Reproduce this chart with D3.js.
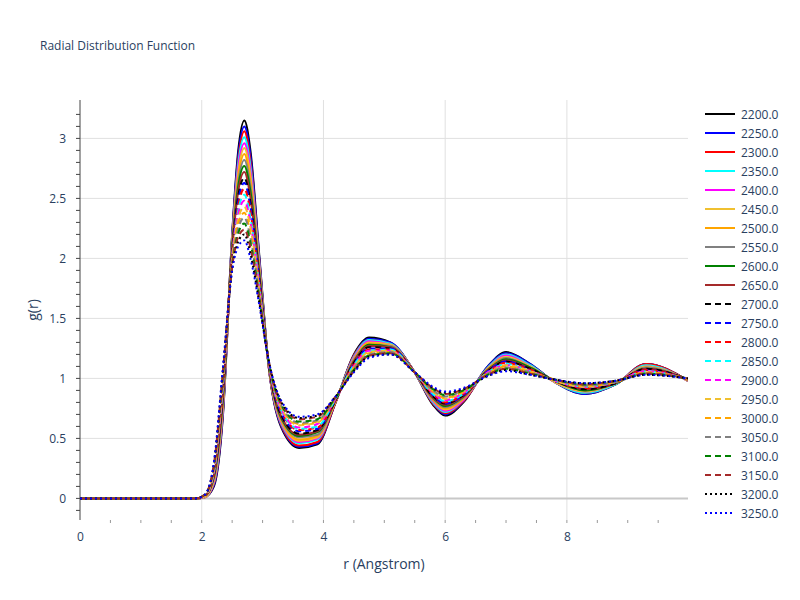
<!DOCTYPE html>
<html>
<head>
<meta charset="utf-8">
<script src="https://cdn.jsdelivr.net/npm/d3@7"></script>
<style>
  body { margin: 0; background: #fff; }
  text { font-family: "Open Sans", sans-serif; fill: #2a3f5f; }
</style>
</head>
<body>
<svg id="chart" width="800" height="600"></svg>
<script>
var rValues = [0, 1.9, 2.05, 2.2, 2.35, 2.5, 2.6, 2.7, 2.8, 2.95, 3.1, 3.3, 3.6, 3.9, 4.2, 4.5, 4.75, 5.1, 5.5, 5.8, 6.0, 6.3, 6.7, 7.0, 7.4, 7.8, 8.3, 8.8, 9.3, 9.99];
var temperatures = ['2200.0','2250.0','2300.0','2350.0','2400.0','2450.0','2500.0','2550.0','2600.0','2650.0','2700.0','2750.0','2800.0','2850.0','2900.0','2950.0','3000.0','3050.0','3100.0','3150.0','3200.0','3250.0'];
var gValues = [
  [0,0,.01,.10,.70,2.20,2.90,3.15,2.90,2.00,1.10,.60,.42,.45,.80,1.20,1.34,1.30,1.05,.78,.69,.80,1.10,1.22,1.12,.97,.87,.95,1.12,.98],
  [0,0,.01,.11,.72,2.19,2.86,3.10,2.86,1.98,1.10,.61,.43,.46,.80,1.19,1.33,1.30,1.05,.79,.70,.81,1.10,1.21,1.12,.97,.87,.95,1.12,.98],
  [0,0,.01,.12,.74,2.17,2.82,3.06,2.81,1.96,1.10,.62,.44,.47,.80,1.19,1.32,1.29,1.05,.79,.71,.81,1.09,1.20,1.11,.97,.88,.95,1.12,.98],
  [0,0,.01,.13,.76,2.16,2.79,3.01,2.77,1.94,1.11,.63,.46,.49,.81,1.18,1.32,1.29,1.05,.80,.72,.82,1.09,1.20,1.11,.97,.88,.95,1.11,.98],
  [0,0,.01,.14,.78,2.14,2.75,2.96,2.73,1.92,1.11,.64,.47,.50,.81,1.17,1.31,1.28,1.05,.81,.73,.82,1.08,1.19,1.10,.97,.89,.96,1.10,.98],
  [0,0,.01,.15,.80,2.13,2.71,2.92,2.69,1.90,1.11,.65,.48,.51,.81,1.16,1.30,1.28,1.05,.82,.74,.83,1.08,1.18,1.10,.97,.89,.96,1.10,.98],
  [0,0,.02,.16,.81,2.11,2.67,2.87,2.64,1.89,1.11,.66,.49,.52,.81,1.16,1.29,1.27,1.05,.82,.75,.83,1.08,1.17,1.09,.98,.90,.96,1.09,.99],
  [0,0,.02,.17,.83,2.10,2.63,2.82,2.60,1.87,1.12,.67,.51,.53,.82,1.15,1.28,1.27,1.05,.83,.76,.84,1.07,1.17,1.09,.98,.90,.96,1.09,.99],
  [0,0,.02,.18,.85,2.09,2.60,2.77,2.56,1.85,1.12,.68,.52,.55,.82,1.14,1.28,1.26,1.05,.84,.77,.85,1.07,1.16,1.09,.98,.90,.96,1.08,.99],
  [0,0,.02,.19,.87,2.07,2.56,2.72,2.51,1.83,1.12,.69,.53,.56,.82,1.14,1.27,1.26,1.05,.84,.78,.85,1.07,1.15,1.08,.98,.91,.96,1.08,.99],
  [0,0,.02,.20,.89,2.06,2.52,2.67,2.47,1.81,1.12,.70,.54,.57,.82,1.13,1.26,1.25,1.05,.85,.79,.86,1.06,1.14,1.08,.98,.91,.96,1.08,.99],
  [0,0,.02,.20,.91,2.04,2.48,2.63,2.43,1.79,1.13,.72,.56,.58,.83,1.12,1.25,1.25,1.05,.86,.79,.86,1.06,1.14,1.07,.98,.92,.97,1.07,.99],
  [0,0,.02,.21,.93,2.03,2.44,2.58,2.39,1.77,1.13,.73,.57,.59,.83,1.11,1.24,1.24,1.05,.87,.80,.87,1.05,1.13,1.07,.98,.92,.97,1.07,.99],
  [0,0,.02,.22,.95,2.01,2.40,2.53,2.34,1.75,1.13,.74,.58,.60,.83,1.11,1.23,1.24,1.05,.87,.81,.87,1.05,1.12,1.06,.98,.93,.97,1.06,.99],
  [0,0,.02,.23,.97,2.00,2.37,2.48,2.30,1.73,1.13,.75,.59,.62,.83,1.10,1.23,1.23,1.05,.88,.82,.88,1.05,1.11,1.06,.98,.93,.97,1.06,.99],
  [0,0,.02,.24,.99,1.99,2.33,2.43,2.26,1.71,1.14,.76,.61,.63,.84,1.09,1.22,1.23,1.05,.89,.83,.89,1.04,1.11,1.06,.98,.93,.97,1.05,.99],
  [0,0,.03,.25,1.00,1.97,2.29,2.38,2.21,1.70,1.14,.77,.62,.64,.84,1.09,1.21,1.22,1.05,.89,.84,.89,1.04,1.10,1.05,.99,.94,.97,1.05,1.00],
  [0,0,.03,.26,1.02,1.96,2.25,2.34,2.17,1.68,1.14,.78,.63,.65,.84,1.08,1.20,1.22,1.05,.90,.85,.90,1.04,1.09,1.05,.99,.94,.97,1.04,1.00],
  [0,0,.03,.27,1.04,1.94,2.21,2.29,2.13,1.66,1.14,.79,.64,.66,.84,1.07,1.19,1.21,1.05,.91,.86,.90,1.03,1.08,1.04,.99,.95,.98,1.04,1.00],
  [0,0,.03,.28,1.06,1.93,2.18,2.24,2.09,1.64,1.15,.80,.66,.68,.85,1.06,1.19,1.21,1.05,.92,.87,.91,1.03,1.08,1.04,.99,.95,.98,1.04,1.00],
  [0,0,.03,.29,1.08,1.91,2.14,2.20,2.04,1.62,1.15,.81,.67,.69,.85,1.06,1.18,1.20,1.05,.92,.88,.91,1.02,1.07,1.03,.99,.96,.98,1.03,1.00],
  [0,0,.03,.30,1.10,1.90,2.10,2.15,2.00,1.60,1.15,.82,.68,.70,.85,1.05,1.17,1.20,1.05,.93,.89,.92,1.02,1.06,1.03,.99,.96,.98,1.03,1.00]
];
var xTicks = [0, 2, 4, 6, 8];
var yTicks = [0, 0.5, 1, 1.5, 2, 2.5, 3];

var palette = ['#000000','#0000ff','#ff0000','#00ffff','#ff00ff','#f0c030','#ffa500','#808080','#008000','#a52a2a'];
var styleOf = function(i) {
  var dash = i < 10 ? null : (i < 20 ? '6,4' : '2,3');
  return { color: palette[i % 10], dash: dash };
};

var svg = d3.select('#chart');
var pL = 80, pR = 688, pT = 100, pB = 520;
var x = d3.scaleLinear().domain([0, 9.99]).range([pL, pR]);
var y = d3.scaleLinear().domain([-0.18, 3.32]).range([pB, pT]);

svg.append('text').attr('x', 40).attr('y', 50).style('font-size', '12px').text('Radial Distribution Function');

// grid
svg.append('g').selectAll('line').data(xTicks.slice(1)).join('line')
  .attr('x1', d => x(d)).attr('x2', d => x(d)).attr('y1', pT).attr('y2', pB)
  .attr('stroke', '#e0e0e0');
svg.append('g').selectAll('line').data(yTicks).join('line')
  .attr('x1', pL).attr('x2', pR).attr('y1', d => y(d)).attr('y2', d => y(d))
  .attr('stroke', d => d === 0 ? '#c8c8c8' : '#e0e0e0').attr('stroke-width', d => d === 0 ? 2 : 1);

var xAxis = svg.append('g').attr('transform', 'translate(0,' + pB + ')')
  .call(d3.axisBottom(x).tickValues(xTicks).tickSize(0).tickPadding(12).tickFormat(d3.format('d')));
var yAxis = svg.append('g').attr('transform', 'translate(' + pL + ',0)')
  .call(d3.axisLeft(y).tickValues(yTicks).tickSize(0).tickPadding(14).tickFormat(d => d3.format('')(d)));
[xAxis, yAxis].forEach(a => { a.select('.domain').remove(); a.selectAll('text').style('font-size', '12px').style('fill', '#2a3f5f'); });
yAxis.append('line').attr('x1', 0).attr('x2', 0).attr('y1', pT).attr('y2', pB).attr('stroke', '#444');
yAxis.selectAll('.minor').data(d3.range(-0.1, 3.3, 0.1)).join('line')
  .attr('x1', -4).attr('x2', 0).attr('y1', d => y(d)).attr('y2', d => y(d)).attr('stroke', '#444');
xAxis.selectAll('.minor').data(d3.range(0.5, 10, 0.5)).join('line')
  .attr('x1', d => x(d)).attr('x2', d => x(d)).attr('y1', 0).attr('y2', 3).attr('stroke', '#999');

svg.append('text').attr('x', (pL + pR) / 2).attr('y', 569).attr('text-anchor', 'middle')
  .style('font-size', '14px').text('r (Angstrom)');
svg.append('text').attr('transform', 'translate(38,' + (pT + pB) / 2 + ') rotate(-90)')
  .attr('text-anchor', 'middle').style('font-size', '14px').text('g(r)');

var line = d3.line().x(d => x(d[0])).y(d => y(d[1])).curve(d3.curveMonotoneX);
svg.append('defs').append('clipPath').attr('id', 'clip').append('rect')
  .attr('x', pL).attr('y', pT).attr('width', pR - pL).attr('height', pB - pT);
var plot = svg.append('g').attr('clip-path', 'url(#clip)');
gValues.forEach(function(vals, i) {
  var s = styleOf(i);
  plot.append('path').datum(rValues.map((r, k) => [r, vals[k]]))
    .attr('d', line).attr('fill', 'none').attr('stroke', s.color).attr('stroke-width', 2)
    .attr('stroke-dasharray', s.dash);
});

var legend = svg.append('g').attr('transform', 'translate(705,114)');
temperatures.forEach(function(t, i) {
  var s = styleOf(i);
  var g = legend.append('g').attr('transform', 'translate(0,' + i * 19 + ')');
  g.append('line').attr('x1', 0).attr('x2', 30).attr('stroke', s.color).attr('stroke-width', 2).attr('stroke-dasharray', s.dash);
  g.append('text').attr('x', 36).attr('y', 4.5).style('font-size', '12px').text(t);
});
</script>
</body>
</html>
